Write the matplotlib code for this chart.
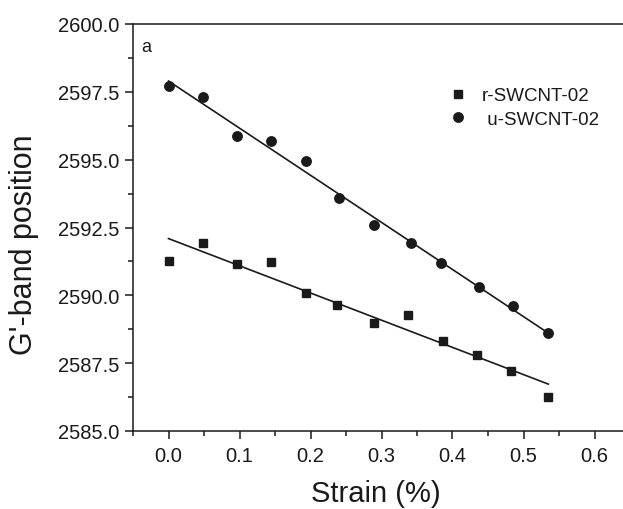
import numpy as np
import matplotlib
matplotlib.use("Agg")
import matplotlib.pyplot as plt
from matplotlib.ticker import MultipleLocator, FormatStrFormatter

plt.rcParams['font.family'] = ['Liberation Sans', 'DejaVu Sans']

# strain (%) and G'-band position
strain_r = [0.0, 0.048, 0.096, 0.144, 0.193, 0.237, 0.289, 0.338, 0.386, 0.434, 0.482, 0.535]
gband_r = [2591.28, 2591.92, 2591.17, 2591.22, 2590.10, 2589.65, 2588.98, 2589.29, 2588.32, 2587.80, 2587.22, 2586.25]

strain_u = [0.0, 0.048, 0.096, 0.144, 0.193, 0.240, 0.289, 0.341, 0.384, 0.437, 0.485, 0.534]
gband_u = [2597.73, 2597.32, 2595.87, 2595.70, 2594.95, 2593.57, 2592.59, 2591.92, 2591.18, 2590.31, 2589.61, 2588.62]

label_r = "r-SWCNT-02"
label_u = " u-SWCNT-02"

ink = '#1a1a1a'

fig = plt.figure(figsize=(6.23, 5.10), dpi=100)
W, H = 623, 510
# axes box in pixels (right edge runs past the canvas like in the source)
left, right, top, bottom = 133, 630, 25, 432
ax = fig.add_axes([left / W, 1 - bottom / H, (right - left) / W, (bottom - top) / H])

ax.plot(strain_r, gband_r, 's', color=ink, ms=6, label=label_r, zorder=3)
ax.plot(strain_u, gband_u, 'o', color=ink, ms=6.8, label=label_u, zorder=3)

# linear fits
for xs, ys in [(strain_r, gband_r), (strain_u, gband_u)]:
    xs = np.array(xs)
    k, b = np.polyfit(xs, ys, 1)
    xx = np.array([xs.min(), xs.max()])
    ax.plot(xx, k * xx + b, '-', color=ink, lw=1.2, zorder=2)

ax.set_xlim(-0.05, 0.65)
ax.set_ylim(2585.0, 2600.0)
ax.xaxis.set_major_locator(MultipleLocator(0.1))
ax.xaxis.set_minor_locator(MultipleLocator(0.05))
ax.yaxis.set_major_locator(MultipleLocator(2.5))
ax.yaxis.set_minor_locator(MultipleLocator(1.25))
ax.xaxis.set_major_formatter(FormatStrFormatter('%.1f'))
ax.yaxis.set_major_formatter(FormatStrFormatter('%.1f'))

ax.tick_params(which='both', direction='out', color=ink, width=1.1,
               top=False, right=False, labelcolor=ink, labelsize=14.5)
ax.tick_params(which='major', length=6)
ax.tick_params(which='minor', length=3.5)
ax.tick_params(axis='y', pad=4)
ax.tick_params(axis='x', pad=5)
for sp in ax.spines.values():
    sp.set_color(ink)
    sp.set_linewidth(1.1)

ax.set_xlabel("Strain (%)", fontsize=21, color=ink)
ax.set_ylabel("G'-band position", fontsize=22, color=ink)
aw, ah = right - left, bottom - top
ax.xaxis.set_label_coords((376 - left) / aw, (bottom - 494) / ah)
ax.xaxis.label.set_va('center')
ax.yaxis.set_label_coords((24 - left) / aw, (bottom - 245) / ah)
ax.yaxis.label.set_va('center')

ax.text((146 - left) / aw, (bottom - 48) / ah, "a", transform=ax.transAxes,
        fontsize=13, color=ink, ha='center', va='center')

ax.legend(loc='upper left', bbox_to_anchor=((449 - left) / aw, (bottom - 88) / ah),
          frameon=False, fontsize=13.5, handlelength=1.0, handletextpad=0.75,
          borderpad=0, borderaxespad=0, labelspacing=0.35, numpoints=1,
          labelcolor=ink)

fig.savefig("out.png", dpi=100)
